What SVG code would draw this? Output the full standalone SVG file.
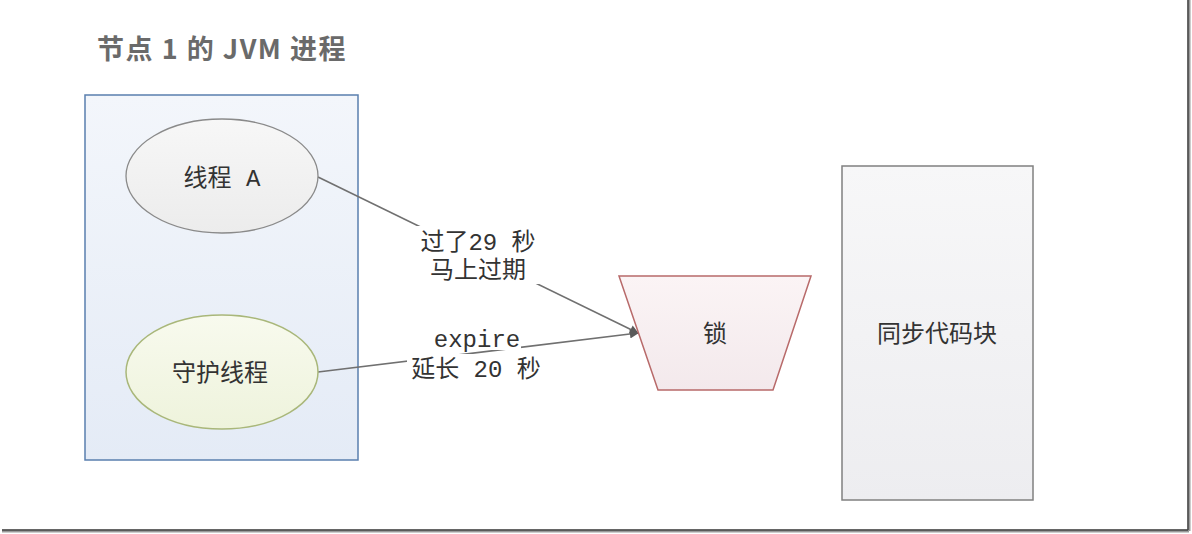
<svg xmlns="http://www.w3.org/2000/svg" width="1192" height="534" viewBox="0 0 1192 534">
<style>
.t{font-family:"Noto Sans CJK SC","Liberation Sans",sans-serif;font-size:24px;fill:#333;text-anchor:middle}
.m{font-family:"Liberation Mono","Noto Sans CJK SC",monospace;font-size:24px;fill:#333;text-anchor:middle}
.conn{stroke:#707070;stroke-width:1.6;fill:none}
</style>
<defs>
<linearGradient id="gBlue" x1="0" y1="0" x2="0" y2="1"><stop offset="0" stop-color="#f3f6fb"/><stop offset="1" stop-color="#e4ebf6"/></linearGradient>
<linearGradient id="gGray" x1="0" y1="0" x2="0" y2="1"><stop offset="0" stop-color="#f7f7f7"/><stop offset="1" stop-color="#ececec"/></linearGradient>
<linearGradient id="gGreen" x1="0" y1="0" x2="0" y2="1"><stop offset="0" stop-color="#f8faee"/><stop offset="1" stop-color="#eef3dc"/></linearGradient>
<linearGradient id="gRed" x1="0" y1="0" x2="0" y2="1"><stop offset="0" stop-color="#fbf4f5"/><stop offset="1" stop-color="#f3e9ec"/></linearGradient>
<linearGradient id="gRect" x1="0" y1="0" x2="0" y2="1"><stop offset="0" stop-color="#f7f7f8"/><stop offset="1" stop-color="#ededf0"/></linearGradient>
<marker id="arr" viewBox="0 0 10 10" refX="9" refY="5" markerWidth="10" markerHeight="9" orient="auto" markerUnits="userSpaceOnUse">
<path d="M0,0 L10,5 L0,10 Z" fill="#5a5a5a"/>
</marker>
</defs>
<rect width="1192" height="534" fill="#fff"/>
<g id="frame">
<line x1="2" y1="531" x2="1189" y2="531" stroke="#9a9a9a" stroke-width="3"/>
<line x1="1189" y1="0" x2="1189" y2="531" stroke="#9a9a9a" stroke-width="3"/>
<line x1="2" y1="530" x2="1188" y2="530" stroke="#444" stroke-width="1.5"/>
<line x1="1188" y1="0" x2="1188" y2="530" stroke="#444" stroke-width="1.5"/>
</g>
<text x="97" y="59" font-family="'Noto Sans CJK SC','Liberation Sans',sans-serif" font-size="27" font-weight="bold" letter-spacing="1.5" fill="#6a6a6a">节点 1 的 JVM 进程</text>
<g id="jvm">
<rect x="85" y="95" width="273" height="365" fill="url(#gBlue)" stroke="#5a7fae" stroke-width="1.5"/>
</g>
<g id="connectors">
<line class="conn" x1="318" y1="177" x2="638" y2="333" marker-end="url(#arr)"/>
<line class="conn" x1="318" y1="372" x2="638" y2="333" marker-end="url(#arr)"/>
<rect x="416" y="226" width="124" height="58" fill="#fff"/>
<rect x="435" y="329" width="86" height="21" fill="#fff"/>
<rect x="407" y="354" width="139" height="28" fill="#fff"/>
<text class="m" x="478" y="250">过了29 秒</text>
<text class="m" x="478" y="278">马上过期</text>
<text class="m" x="477" y="347">expire</text>
<text class="m" x="476" y="377">延长 20 秒</text>
</g>
<g id="threadA">
<ellipse cx="222" cy="176" rx="96" ry="57" fill="url(#gGray)" stroke="#8a8a8a" stroke-width="1.3"/>
<text class="m" x="222" y="186">线程 A</text>
</g>
<g id="daemon">
<ellipse cx="222" cy="372" rx="96" ry="57" fill="url(#gGreen)" stroke="#a9b77a" stroke-width="1.5"/>
<text class="t" x="220" y="381">守护线程</text>
</g>
<g id="lock">
<polygon points="619,276 811,276 773,390 658,390" fill="url(#gRed)" stroke="#b86a6a" stroke-width="1.5"/>
<text class="t" x="715" y="342">锁</text>
</g>
<g id="sync">
<rect x="842" y="166" width="191" height="334" fill="url(#gRect)" stroke="#808080" stroke-width="1.5"/>
<text class="t" x="937" y="342">同步代码块</text>
</g>
</svg>
